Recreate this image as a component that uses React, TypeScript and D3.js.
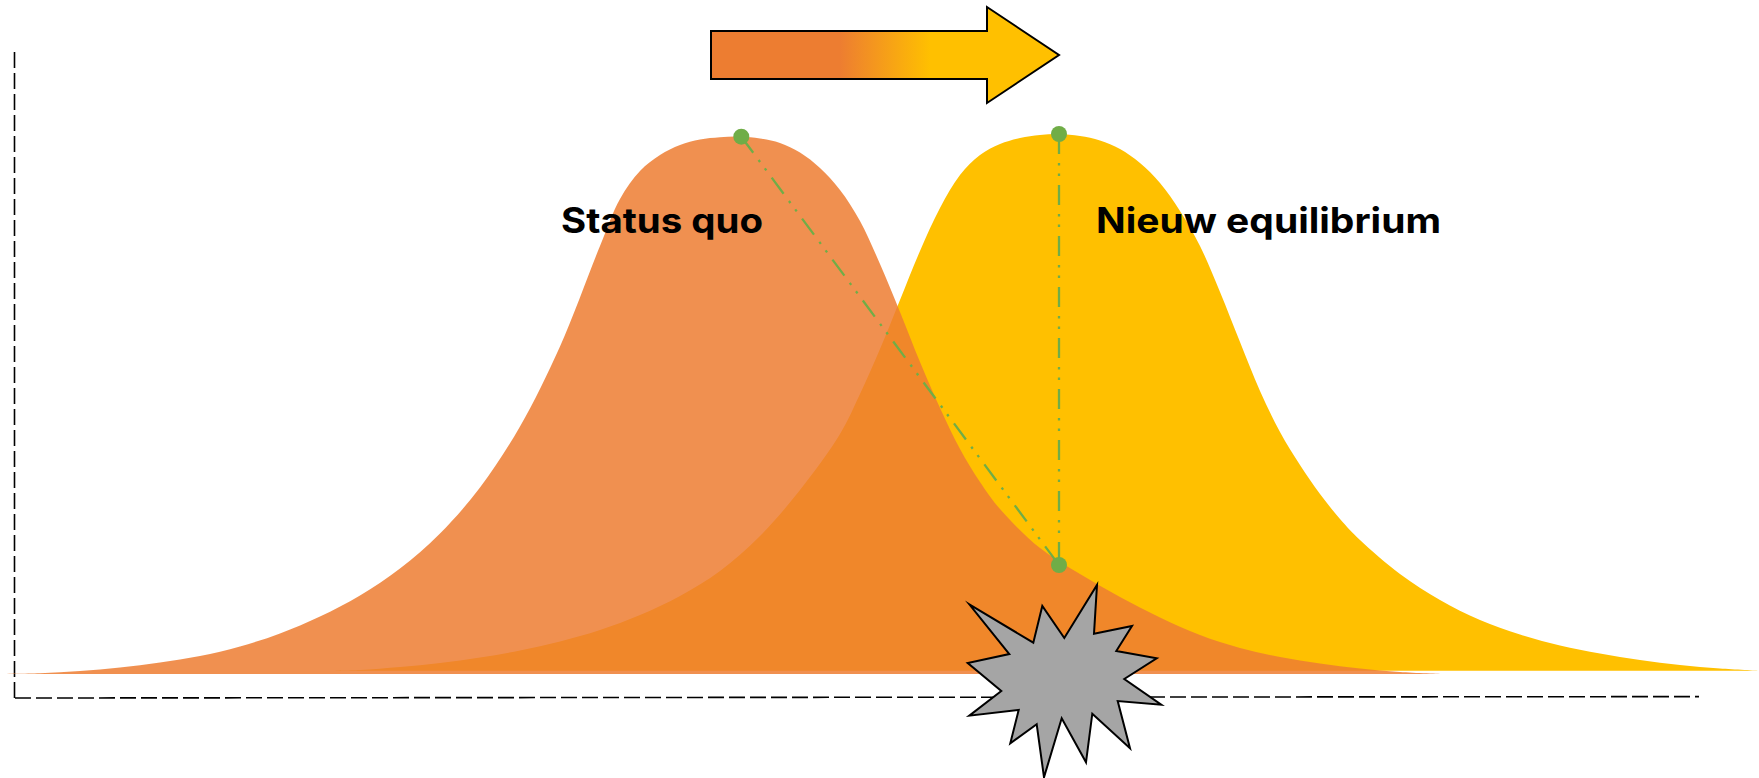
import React from "react";
import * as d3 from "d3";

// Positions along the horizontal scale and heights above the axis baseline.
const statusQuoX = [0, 40, 80, 120, 160, 200, 240, 280, 320, 360, 400, 440, 480, 520, 560, 600, 620, 640, 660, 680, 700, 720, 741, 760, 780, 800, 820, 840, 860, 880, 900, 920, 940, 960, 980, 1000, 1040, 1080, 1120, 1160, 1200, 1240, 1280, 1320, 1360, 1400, 1443];
const statusQuoY = [0, 0.7, 3, 6.5, 11.5, 18, 27.5, 40.5, 57.5, 78.5, 105.5, 140.5, 186.5, 247.5, 327.5, 428, 475, 503, 519, 529, 534.5, 536.8, 537.3, 535.5, 531, 521.5, 506, 484, 453, 410, 362, 312, 266, 225, 192, 165, 126, 100, 77, 56.5, 39, 26, 17, 10.5, 5.5, 2, 0];
const equilibriumX = [330, 360, 400, 440, 480, 520, 560, 600, 640, 680, 720, 760, 800, 840, 860, 880, 900, 920, 940, 960, 980, 1000, 1020, 1040, 1059, 1080, 1100, 1120, 1140, 1160, 1180, 1200, 1220, 1240, 1260, 1280, 1300, 1320, 1340, 1360, 1400, 1440, 1480, 1520, 1560, 1600, 1640, 1680, 1720, 1759];
const equilibriumY = [3.3, 4, 7, 11, 16.5, 23.5, 32.5, 44, 59, 78, 103, 138, 184, 240, 280, 325, 374, 423, 466, 499, 519, 530, 536, 539, 540, 538, 533.5, 525, 511, 491, 463, 428, 382, 332, 283, 242, 209, 180, 155, 134, 100, 74, 54, 39.5, 28.5, 20.5, 14, 9, 5.5, 3.3];
const burstX = [969.3, 1033.3, 1042.3, 1064.3, 1097, 1094, 1132, 1116.3, 1156.7, 1124.3, 1161.3, 1117.7, 1130, 1092.3, 1086, 1061.7, 1044, 1036.7, 1010.3, 1018.7, 969.3, 1001.3, 967.7, 1009.3];
const burstY = [69.7, 31.3, 68, 36, 89, 40.3, 48, 23, 15.7, -5, -30.7, -27, -74.3, -39.7, -88.3, -44.3, -103.3, -50.3, -69.3, -36, -41.7, -17, 11, 20];
const shiftArrowX = [711, 987, 987, 1059, 987, 987, 711];
const shiftArrowY = [643, 643, 667, 619, 571, 595, 595];
const markerX = [741.3, 1059, 1059];
const markerY = [537.3, 540, 109];
const labels = ["Status quo", "Nieuw equilibrium"];
const labelX = [561, 1096];
const labelY = [441, 441];
const labelWidth = [202, 345];
const axisEndX = 1699;
const axisTopY = 622;

const W = 1759;
const H = 778;
const x = d3.scaleLinear().domain([0, W]).range([0, W]);
const y = d3.scaleLinear().domain([0, 674]).range([674, 0]);

const zip = (a: number[], b: number[]) => a.map((v, i) => [v, b[i]] as [number, number]);

const areaFor = (base: number) =>
  d3
    .area<[number, number]>()
    .x((d) => x(d[0]))
    .y0(y(base))
    .y1((d) => y(d[1]))
    .curve(d3.curveCatmullRom.alpha(0.5));

const polygon = d3
  .line<[number, number]>()
  .x((d) => x(d[0]))
  .y((d) => y(d[1]))
  .curve(d3.curveLinearClosed);

const DASH = "20 9 2.5 8 2.5 9";
const AXIS_DASH = "16 5";
const GREEN = "#70AD47";

export default function App() {
  const statusQuo = zip(statusQuoX, statusQuoY);
  const equilibrium = zip(equilibriumX, equilibriumY);
  const burst = zip(burstX, burstY);
  const arrow = zip(shiftArrowX, shiftArrowY);
  return (
    <svg
      width={W}
      height={H}
      viewBox={`0 0 ${W} ${H}`}
      style={{ position: "absolute", left: 0, top: 0, display: "block", background: "#fff" }}
    >
      <defs>
        <linearGradient id="shift" x1="0" x2="1" y1="0" y2="0">
          <stop offset="0.37" stopColor="#ED7D31" />
          <stop offset="0.63" stopColor="#FFC000" />
        </linearGradient>
      </defs>

      {/* axes */}
      <line x1={x(14.5)} x2={x(14.5)} y1={y(axisTopY)} y2={y(-24)} stroke="#000" strokeWidth={1.6} strokeDasharray={AXIS_DASH} />
      <line x1={x(15)} x2={x(axisEndX)} y1={y(-24)} y2={y(-22.6)} stroke="#000" strokeWidth={1.6} strokeDasharray={AXIS_DASH} />

      {/* distributions */}
      <path d={areaFor(3.3)(equilibrium) ?? ""} fill="#FFC000" />
      <path d={areaFor(0)(statusQuo) ?? ""} fill="#ED7D31" fillOpacity={0.85} />

      {/* arrow */}
      <path d={polygon(arrow) ?? ""} fill="url(#shift)" stroke="#000" strokeWidth={2} strokeLinejoin="miter" />

      {/* movement lines */}
      <line x1={x(markerX[0])} y1={y(markerY[0])} x2={x(markerX[2])} y2={y(markerY[2])} stroke={GREEN} strokeWidth={2.3} strokeDasharray={DASH} />
      <line x1={x(markerX[1])} y1={y(markerY[1])} x2={x(markerX[2])} y2={y(markerY[2])} stroke={GREEN} strokeWidth={2.3} strokeDasharray={DASH} />
      {markerX.map((mx, i) => (
        <circle key={i} cx={x(mx)} cy={y(markerY[i])} r={8} fill={GREEN} />
      ))}

      {/* labels */}
      {labels.map((t, i) => (
        <text
          key={t}
          x={x(labelX[i])}
          y={y(labelY[i])}
          fontFamily="Inter, sans-serif"
          fontWeight={700}
          fontSize={35}
          fill="#000"
          textLength={labelWidth[i]}
          lengthAdjust="spacingAndGlyphs"
        >
          {t}
        </text>
      ))}

      {/* burst */}
      <path d={polygon(burst) ?? ""} fill="#A5A5A5" stroke="#000" strokeWidth={2} strokeLinejoin="miter" strokeMiterlimit={10} />
    </svg>
  );
}
